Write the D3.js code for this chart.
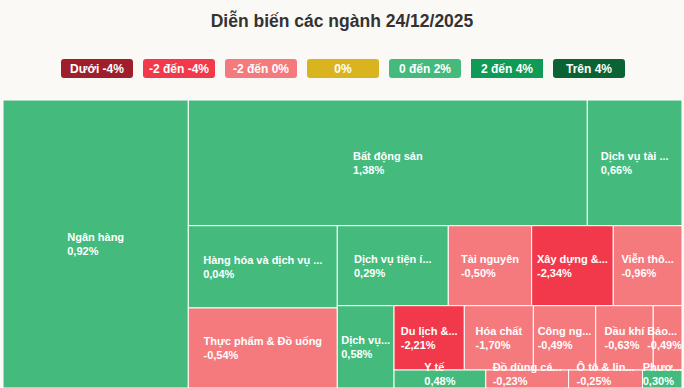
<!DOCTYPE html>
<html lang="vi">

<head>
    <meta charset="UTF-8">
    <title>Diễn biến các ngành</title>
    <script src="https://d3js.org/d3.v7.min.js"></script>
    <style>
        body {
            margin: 0;
            background: #fbf9f6;
        }

        svg {
            display: block;
            background: #fbf9f6;
            font-family: "Liberation Sans", Arial, sans-serif;
        }

        .cell-label {
            font-size: 11px;
            font-weight: bold;
            fill: #fff;
        }
    </style>
</head>

<body>
    <svg width="684" height="388"></svg>

    <script>
        // tên ngành (như hiển thị), % thay đổi, tỷ trọng
        const sectors = ["Ngân hàng", "Bất động sản", "Dịch vụ tài ...", "Hàng hóa và dịch vụ ...",
            "Thực phẩm & Đồ uống", "Dịch vụ tiện í...", "Tài nguyên", "Xây dựng &...", "Viễn thô...",
            "Dịch vụ...", "Du lịch &...", "Hóa chất", "Công ng...", "Dầu khí", "Bảo...",
            "Y tế", "Đồ dùng cá...", "Ô tô & lin...", "Phươ..."];
        const changes = [0.92, 1.38, 0.66, 0.04, -0.54, 0.29, -0.50, -2.34, -0.96,
            0.58, -2.21, -1.70, -0.49, -0.63, -0.49, 0.48, -0.23, -0.25, 0.30];
        const weights = [533.7, 501.5, 119.0, 122.6, 119.2, 88.8, 66.7, 65.3, 55.0,
            46.7, 45.2, 44.4, 40.1, 37.0, 18.5, 16.5, 14.9, 13.3, 7.1];

        // nhóm bố cục: "row" = xếp ngang, "col" = xếp dọc
        const groups = ["row", 0, ["col", ["row", 1, 2], ["row", ["col", 3, 4],
            ["col", ["row", 5, 6, 7, 8], ["row", 9, ["col", ["row", 10, 11, 12, 13, 14], ["row", 15, 16, 17, 18]]]]]]];

        const legendLabels = ["Dưới -4%", "-2 đến -4%", "-2 đến 0%", "0%", "0 đến 2%", "2 đến 4%", "Trên 4%"];
        const legendColors = ["#9e1f2b", "#f2394b", "#f47a7e", "#d9b41f", "#44bb7d", "#0f9a55", "#0b6333"];

        const width = 684;
        const height = 388;
        const plot = { x: 3, y: 100, w: 679, h: 288 };

        const svg = d3.select("svg");

        svg.append("text")
            .attr("x", width / 2)
            .attr("y", 27)
            .attr("text-anchor", "middle")
            .attr("font-size", 17.5)
            .attr("font-weight", "bold")
            .attr("fill", "#333")
            .text("Diễn biến các ngành 24/12/2025");

        // chú thích
        const lx = d3.scaleBand()
            .domain(legendLabels)
            .range([61, 625])
            .paddingInner(10 / 82);

        const legend = svg.selectAll(".legend")
            .data(legendLabels)
            .enter()
            .append("g")
            .attr("transform", d => `translate(${lx(d)},59)`);

        legend.append("rect")
            .attr("width", lx.bandwidth())
            .attr("height", 19)
            .attr("rx", (d, i) => i === 5 ? 0 : 3)
            .attr("fill", (d, i) => legendColors[i]);

        legend.append("text")
            .attr("x", lx.bandwidth() / 2)
            .attr("y", 14)
            .attr("text-anchor", "middle")
            .attr("font-size", 12)
            .attr("font-weight", "bold")
            .attr("fill", "#fff")
            .text(d => d);

        const color = d3.scaleThreshold()
            .domain([-4, -2, 0, 0.0001, 2, 4])
            .range(legendColors);
        // đúng 0% -> vàng
        const fillOf = v => v === 0 ? legendColors[3] : color(v);

        function build(g) {
            if (typeof g === "number") {
                return { name: sectors[g], change: changes[g], value: weights[g] };
            }
            return { dir: g[0], children: g.slice(1).map(build) };
        }

        const root = d3.hierarchy(build(groups))
            .sum(d => d.value || 0);

        function tile(node, x0, y0, x1, y1) {
            (node.data.dir === "col" ? d3.treemapSlice : d3.treemapDice)(node, x0, y0, x1, y1);
        }

        d3.treemap()
            .tile(tile)
            .size([plot.w, plot.h])
            .round(false)(root);

        const leaves = root.leaves();

        const g = svg.append("g")
            .attr("transform", `translate(${plot.x},${plot.y})`);

        g.selectAll("rect")
            .data(leaves)
            .enter()
            .append("rect")
            .attr("x", d => d.x0)
            .attr("y", d => d.y0)
            .attr("width", d => d.x1 - d.x0)
            .attr("height", d => d.y1 - d.y0)
            .attr("fill", d => fillOf(d.data.change))
            .attr("stroke", "#fff")
            .attr("stroke-width", 1);

        const fmt = v => d3.format(".2f")(v).replace("−", "-").replace(".", ",") + "%";

        const labels = g.selectAll(".cell-label")
            .data(leaves)
            .enter()
            .append("text")
            .attr("class", "cell-label");

        labels.append("tspan").attr("class", "l1").text(d => d.data.name);
        labels.append("tspan").attr("class", "l2").text(d => fmt(d.data.change));

        labels.each(function (d) {
            const t = d3.select(this);
            const w1 = t.select(".l1").node().getComputedTextLength();
            const w2 = t.select(".l2").node().getComputedTextLength();
            const bw = Math.max(w1, w2);
            const bh = 28;
            let left = (d.x0 + d.x1) / 2 - bw / 2;
            let top = (d.y0 + d.y1) / 2 - bh / 2;
            left = Math.max(0, Math.min(plot.w - bw, left));
            top = Math.max(0, Math.min(plot.h - bh, top));
            t.select(".l1").attr("x", left).attr("y", top + 11);
            t.select(".l2").attr("x", left).attr("y", top + 25);
        });
    </script>
</body>

</html>
